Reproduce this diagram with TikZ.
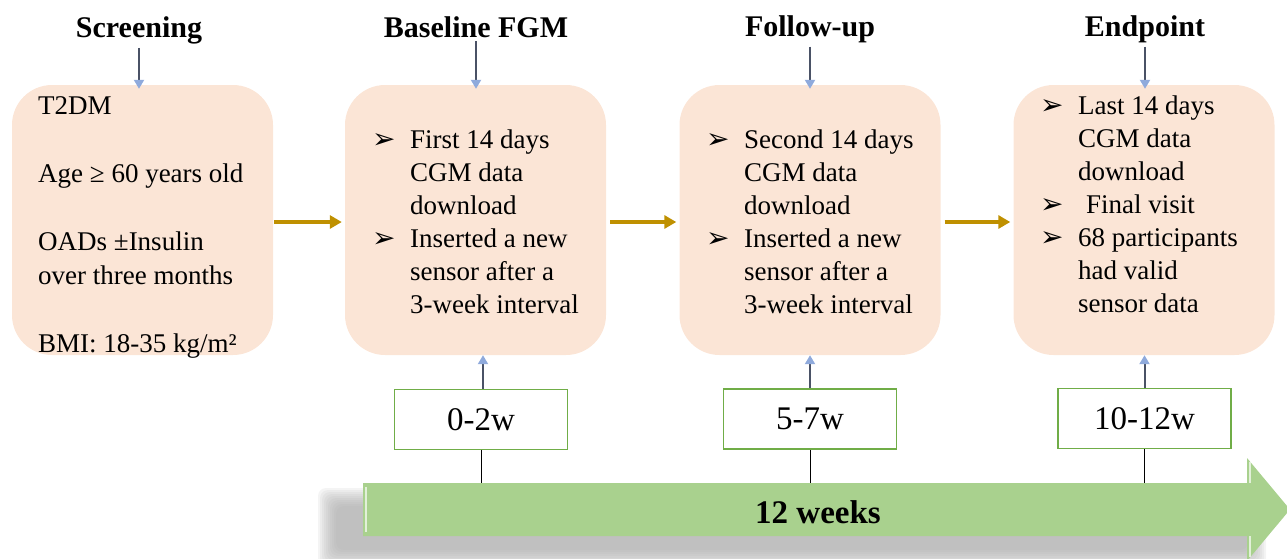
\documentclass[tikz,border=0pt]{standalone}
\usepackage{fontspec}
\setmainfont{Liberation Serif}
\newfontfamily\dejavu{DejaVu Sans}
\usetikzlibrary{arrows.meta}
\definecolor{peach}{HTML}{FBE5D6}
\definecolor{gold}{HTML}{BF9000}
\definecolor{grnline}{HTML}{70AD47}
\definecolor{grnfill}{HTML}{A9D18E}
\definecolor{grnlight}{HTML}{E2F0D9}
\definecolor{arrblue}{HTML}{8FAADC}
\definecolor{arrdark}{HTML}{4A5266}
\newcommand\bul{\makebox[38pt][l]{\dejavu\fontsize{28}{28}\selectfont ➢}}
\newcommand\ind{\hspace*{38pt}}
\begin{document}
\begin{tikzpicture}[x=1pt,y=-1pt,
  pbox/.style={fill=peach, rounded corners=40pt, minimum width=261pt, minimum height=270pt, inner sep=0pt},
  body/.style={anchor=north west, inner sep=0pt, align=left, font=\fontsize{27}{33}\selectfont},
  ttl/.style={anchor=base, inner sep=0pt, font=\bfseries\fontsize{30}{30}\selectfont},
  wk/.style={draw=grnline, line width=1.5pt, fill=white, minimum width=173pt, minimum height=60pt, inner sep=0pt, font=\fontsize{33}{33}\selectfont},
  goldarr/.style={draw=gold, line width=4pt, -{Triangle[length=12pt,width=13pt]}},
  bluearr/.style={draw=arrdark, line width=2pt, -{Triangle[length=9pt,width=10pt,fill=arrblue,color=arrblue]}},
  tickline/.style={draw=black, line width=1pt}]
\useasboundingbox (0,0) rectangle (1287,558);

% titles
\node[ttl] (t1) at (139,37) {Screening};
\node[ttl] (t2) at (476,37) {Baseline FGM};
\node[ttl] (t3) at (810,36) {Follow-up};
\node[ttl] (t4) at (1145,36) {Endpoint};

% boxes
\node[pbox] (b1) at (142.5,220) {};
\node[pbox] (b2) at (475.5,220) {};
\node[pbox] (b3) at (810,220) {};
\node[pbox] (b4) at (1144,220) {};

% box texts
\node[body, font=\fontsize{27}{34}\selectfont] (x1) at (38,96) {T2DM\\[34pt]Age ≥ 60 years old\\[34pt]OADs ±Insulin\\over three months\\[34pt]BMI: 18-35 kg/m²};
\node[body] (x2) at (372,130) {\bul First 14 days\\ \ind CGM data\\ \ind download\\ \bul Inserted a new\\ \ind sensor after a\\ \ind 3-week interval};
\node[body] (x3) at (706,130) {\bul Second 14 days\\ \ind CGM data\\ \ind download\\ \bul Inserted a new\\ \ind sensor after a\\ \ind 3-week interval};
\node[body] (x4) at (1040,96) {\bul Last 14 days\\ \ind CGM data\\ \ind download\\ \bul\hspace{8pt}Final visit\\ \bul 68 participants\\ \ind had valid\\ \ind sensor data};

% title arrows
\draw[bluearr] ([yshift=-4pt]t1.south) -- ([yshift=-4pt]t1.south |- b1.north);
\draw[bluearr] ([yshift=-4pt]t2.south) -- ([yshift=-4pt]t2.south |- b2.north);
\draw[bluearr] ([yshift=-4pt]t3.south) -- ([yshift=-4pt]t3.south |- b3.north);
\draw[bluearr] ([yshift=-4pt]t4.south) -- ([yshift=-4pt]t4.south |- b4.north);

% gold arrows
\draw[goldarr] ([xshift=1pt,yshift=-2pt]b1.east) -- ([xshift=-3pt,yshift=-2pt]b2.west);
\draw[goldarr] ([xshift=4pt,yshift=-2pt]b2.east) -- ([xshift=-3pt,yshift=-2pt]b3.west);
\draw[goldarr] ([xshift=4pt,yshift=-2pt]b3.east) -- ([xshift=-3pt,yshift=-2pt]b4.west);

% soft shadow of big arrow
\foreach \o in {0,2,4,6,8,10,12,14,16,18}{
  \fill[black!34, opacity=0.12, rounded corners=8pt] (318+\o,488+\o) rectangle (1266-\o,568-\o);
}
% big arrow
\fill[grnfill] (363,483) -- (1247,483) -- (1247,458) -- (1290,509.5) -- (1247,561) -- (1247,536) -- (363,536) -- cycle;
\draw[grnlight, line width=2.5pt] (366,487) -- (366,532);
\draw[grnlight, line width=2pt] (1249.5,462) -- (1249.5,483);
\draw[grnlight, line width=2pt] (1249.5,536) -- (1249.5,557);
\coordinate (gtop) at (0,483);
\node[font=\bfseries\fontsize{33}{33}\selectfont, inner sep=0pt] (lbl) at (818,512) {12 weeks};

% week boxes
\node[wk] (w1) at (481,419.5) {0-2w};
\node[wk] (w2) at (810,419) {5-7w};
\node[wk] (w3) at (1144.5,418.5) {10-12w};

\draw[tickline] (w1.south) -- (w1.south |- gtop);
\draw[tickline] (w2.south) -- (w2.south |- gtop);
\draw[tickline] (w3.south) -- (w3.south |- gtop);

\draw[bluearr] ([xshift=2pt]w1.north) -- ([xshift=2pt]w1.north |- b2.south);
\draw[bluearr] (w2.north) -- (w2.north |- b3.south);
\draw[bluearr] (w3.north) -- (w3.north |- b4.south);
\end{tikzpicture}
\end{document}
